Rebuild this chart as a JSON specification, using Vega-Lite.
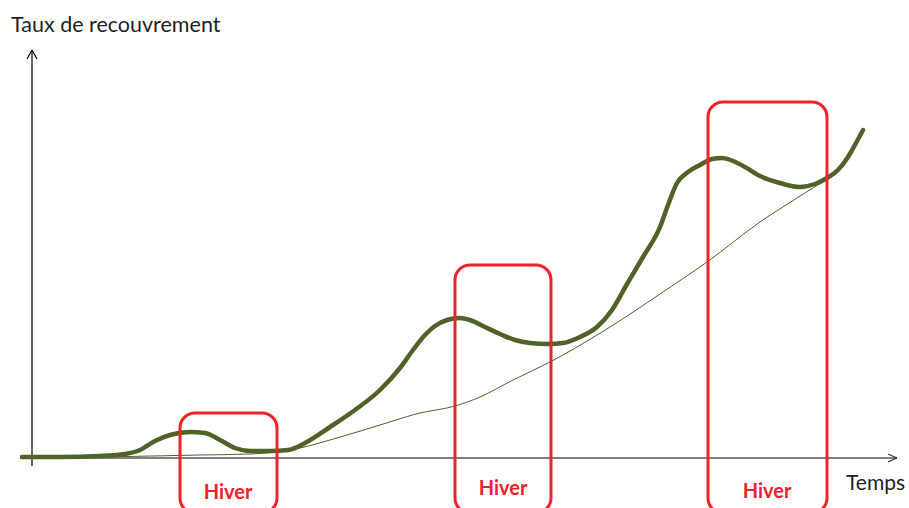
{
  "$schema": "https://vega.github.io/schema/vega-lite/v6.json",
  "width": 909,
  "height": 508,
  "padding": 0,
  "autosize": {"type": "none"},
  "background": "white",
  "config": {"view": {"stroke": null}},
  "datasets": {
    "thick": [
      {"t": -10, "v": 1}, {"t": 28, "v": 1}, {"t": 68, "v": 2}, {"t": 93, "v": 4},
      {"t": 108, "v": 8}, {"t": 123, "v": 17}, {"t": 138, "v": 23}, {"t": 158, "v": 26},
      {"t": 173, "v": 25}, {"t": 188, "v": 18}, {"t": 203, "v": 10}, {"t": 218, "v": 7},
      {"t": 238, "v": 7}, {"t": 256, "v": 8}, {"t": 273, "v": 15}, {"t": 298, "v": 31},
      {"t": 323, "v": 48}, {"t": 348, "v": 68}, {"t": 368, "v": 90}, {"t": 381, "v": 108},
      {"t": 393, "v": 123}, {"t": 403, "v": 132}, {"t": 415, "v": 138}, {"t": 428, "v": 140},
      {"t": 438, "v": 138}, {"t": 453, "v": 131}, {"t": 468, "v": 124}, {"t": 483, "v": 118},
      {"t": 498, "v": 115}, {"t": 516, "v": 114}, {"t": 531, "v": 115}, {"t": 548, "v": 121},
      {"t": 565, "v": 131}, {"t": 580, "v": 148}, {"t": 595, "v": 174}, {"t": 611, "v": 201},
      {"t": 628, "v": 231}, {"t": 636, "v": 253}, {"t": 645, "v": 275}, {"t": 656, "v": 286},
      {"t": 668, "v": 293}, {"t": 680, "v": 299}, {"t": 690, "v": 300}, {"t": 701, "v": 297},
      {"t": 713, "v": 291}, {"t": 728, "v": 282}, {"t": 748, "v": 275}, {"t": 768, "v": 271},
      {"t": 783, "v": 274}, {"t": 795, "v": 280}, {"t": 806, "v": 288}, {"t": 816, "v": 301},
      {"t": 824, "v": 315}, {"t": 831, "v": 328}
    ],
    "thin": [
      {"t": -10, "v": 0}, {"t": 68, "v": 1}, {"t": 168, "v": 3}, {"t": 218, "v": 4},
      {"t": 245, "v": 6}, {"t": 268, "v": 10}, {"t": 298, "v": 18}, {"t": 348, "v": 33},
      {"t": 388, "v": 45}, {"t": 423, "v": 52}, {"t": 448, "v": 61}, {"t": 481, "v": 78},
      {"t": 518, "v": 96}, {"t": 578, "v": 131}, {"t": 628, "v": 164}, {"t": 675, "v": 196},
      {"t": 728, "v": 236}, {"t": 768, "v": 262}, {"t": 795, "v": 280}, {"t": 813, "v": 298},
      {"t": 830, "v": 328}
    ],
    "winters": [
      {"label": "Hiver", "start": 148, "end": 245, "mid": 196, "top": 45, "bottom": -55, "labelv": -41},
      {"label": "Hiver", "start": 423, "end": 519, "mid": 471, "top": 193, "bottom": -55, "labelv": -37},
      {"label": "Hiver", "start": 676, "end": 795, "mid": 735, "top": 356, "bottom": -55, "labelv": -40}
    ],
    "xaxis": [
      {"t": -12, "v": 0, "t2": 865, "v2": 0}
    ],
    "xarrow": [
      {"t": 856, "v": 4, "t2": 865, "v2": 0},
      {"t": 856, "v": -4, "t2": 865, "v2": 0}
    ],
    "yaxis": [
      {"t": 0, "v": -8, "t2": 0, "v2": 408},
      {"t": -5, "v": 399, "t2": 0, "v2": 408},
      {"t": 5, "v": 399, "t2": 0, "v2": 408}
    ]
  },
  "layer": [
    {
      "data": {"name": "xaxis"},
      "mark": {"type": "rule", "color": "#808080", "strokeWidth": 2},
      "encoding": {
        "x": {"field": "t", "type": "quantitative", "scale": {"domain": [-32, 877], "nice": false, "zero": false}, "axis": null},
        "y": {"field": "v", "type": "quantitative", "scale": {"domain": [-50, 458], "nice": false, "zero": false}, "axis": null},
        "x2": {"field": "t2"},
        "y2": {"field": "v2"}
      }
    },
    {
      "data": {"name": "xarrow"},
      "mark": {"type": "rule", "color": "#333333", "strokeWidth": 1.2},
      "encoding": {
        "x": {"field": "t", "type": "quantitative"},
        "y": {"field": "v", "type": "quantitative"},
        "x2": {"field": "t2"},
        "y2": {"field": "v2"}
      }
    },
    {
      "data": {"name": "yaxis"},
      "mark": {"type": "rule", "color": "#000000", "strokeWidth": 1.2},
      "encoding": {
        "x": {"field": "t", "type": "quantitative"},
        "y": {"field": "v", "type": "quantitative"},
        "x2": {"field": "t2"},
        "y2": {"field": "v2"}
      }
    },
    {
      "data": {"name": "thin"},
      "mark": {"type": "line", "color": "#4F6228", "strokeWidth": 1, "interpolate": "monotone"},
      "encoding": {
        "x": {"field": "t", "type": "quantitative"},
        "y": {"field": "v", "type": "quantitative"}
      }
    },
    {
      "data": {"name": "thick"},
      "mark": {"type": "line", "color": "#4F6228", "strokeWidth": 4.5, "interpolate": "monotone", "strokeCap": "round"},
      "encoding": {
        "x": {"field": "t", "type": "quantitative"},
        "y": {"field": "v", "type": "quantitative"}
      }
    },
    {
      "data": {"name": "winters"},
      "mark": {"type": "rect", "fill": null, "fillOpacity": 0, "stroke": "#EE2229", "strokeWidth": 3, "cornerRadius": 15},
      "encoding": {
        "x": {"field": "start", "type": "quantitative"},
        "x2": {"field": "end"},
        "y": {"field": "top", "type": "quantitative"},
        "y2": {"field": "bottom"}
      }
    },
    {
      "data": {"name": "winters"},
      "mark": {"type": "text", "color": "#EE2229", "font": "Lato", "fontSize": 20, "fontWeight": "bold", "align": "center", "baseline": "alphabetic"},
      "encoding": {
        "x": {"field": "mid", "type": "quantitative"},
        "y": {"field": "labelv", "type": "quantitative"},
        "text": {"field": "label"}
      }
    },
    {
      "data": {"values": [{"label": "Taux de recouvrement"}]},
      "mark": {"type": "text", "color": "#1f1f1f", "font": "Lato", "fontSize": 21.5, "align": "left", "baseline": "alphabetic"},
      "encoding": {
        "x": {"datum": -21},
        "y": {"datum": 426},
        "text": {"field": "label"}
      }
    },
    {
      "data": {"values": [{"label": "Temps"}]},
      "mark": {"type": "text", "color": "#1f1f1f", "font": "Lato", "fontSize": 21, "align": "left", "baseline": "alphabetic"},
      "encoding": {
        "x": {"datum": 814},
        "y": {"datum": -32},
        "text": {"field": "label"}
      }
    }
  ]
}
